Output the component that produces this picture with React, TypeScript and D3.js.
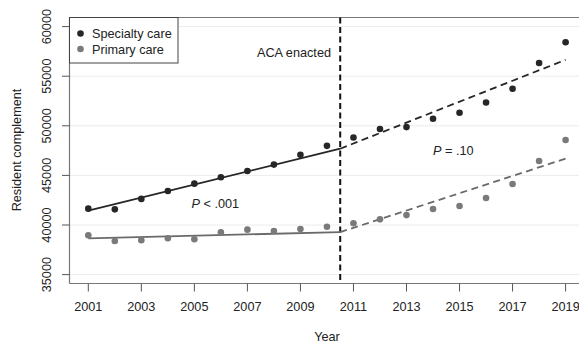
import React from "react";
import * as d3 from "d3";

const years = [2001, 2002, 2003, 2004, 2005, 2006, 2007, 2008, 2009, 2010, 2011, 2012, 2013, 2014, 2015, 2016, 2017, 2018, 2019];
const specialtyCare = [41650, 41580, 42630, 43430, 44170, 44820, 45450, 46090, 47070, 47980, 48820, 49670, 49870, 50710, 51310, 52350, 53740, 56330, 58420];
const primaryCare = [38960, 38390, 38460, 38660, 38560, 39260, 39530, 39400, 39600, 39830, 40170, 40570, 41000, 41610, 41910, 42720, 44130, 46450, 48570];

// Segmented regression fits: [startYear, startValue, endYear, endValue]
const specialtyFitPre = [2001, 41440, 2010.5, 47690];
const specialtyFitPost = [2010.5, 47690, 2019, 56650];
const primaryFitPre = [2001, 38660, 2010.5, 39280];
const primaryFitPost = [2010.5, 39280, 2019, 46690];

const acaYear = 2010.5;
const xTicks = [2001, 2003, 2005, 2007, 2009, 2011, 2013, 2015, 2017, 2019];
const yTicks = [35000, 40000, 45000, 50000, 55000, 60000];

const W = 579;
const H = 343;
const left = 69.5;
const top = 17.5;
const bottom = 283.5;
const right = 586;

const font = "'Liberation Sans', Arial, sans-serif";
const darkCol = "#262626";
const greyCol = "#7a7a7a";

export default function App() {
  const x = d3.scaleLinear().domain([2001, 2019]).range([88.3, 565.6]);
  const y = d3.scaleLinear().domain([40000, 60000]).range([225, 26.6]);

  const seg = (f: number[]) =>
    d3.line<[number, number]>().x((d) => x(d[0])).y((d) => y(d[1]))([
      [f[0], f[1]],
      [f[2], f[3]],
    ]) as string;

  return (
    <svg width={W} height={H} style={{ position: "absolute", left: 0, top: 0, background: "#fff" }} fontFamily={font}>
      {/* grid */}
      {yTicks.map((t) => (
        <line key={"g" + t} x1={left} x2={right} y1={y(t)} y2={y(t)} stroke="#ececec" strokeWidth={1} />
      ))}
      {/* plot frame */}
      <line x1={left} x2={right} y1={top} y2={top} stroke="#777" strokeWidth={1.2} />
      <line x1={left} x2={left} y1={top} y2={bottom} stroke="#777" strokeWidth={1.2} />
      <line x1={left} x2={right} y1={bottom} y2={bottom} stroke="#777" strokeWidth={1.2} />

      {/* y axis */}
      {yTicks.map((t) => (
        <g key={"y" + t}>
          <line x1={left - 7.5} x2={left} y1={y(t)} y2={y(t)} stroke="#555" strokeWidth={1} />
          <text
            transform={`translate(51,${y(t)}) rotate(-90)`}
            textAnchor="middle"
            fontSize={12.7}
            fill="#222"
          >
            {t}
          </text>
        </g>
      ))}
      {/* x axis */}
      {xTicks.map((t) => (
        <g key={"x" + t}>
          <line x1={x(t)} x2={x(t)} y1={bottom} y2={bottom + 8} stroke="#555" strokeWidth={1} />
          <text x={x(t)} y={311} textAnchor="middle" fontSize={12.7} fill="#222">
            {t}
          </text>
        </g>
      ))}
      <text x={327} y={341} textAnchor="middle" fontSize={12.7} fill="#222">
        Year
      </text>
      <text transform={`translate(21,150) rotate(-90)`} textAnchor="middle" fontSize={12.7} fill="#222">
        Resident complement
      </text>

      {/* ACA marker */}
      <line x1={x(acaYear)} x2={x(acaYear)} y1={top} y2={bottom} stroke="#111" strokeWidth={2} strokeDasharray="6,3.5" />
      <text x={331} y={56.5} textAnchor="end" fontSize={12.7} fill="#222">
        ACA enacted
      </text>

      {/* fit lines */}
      <path d={seg(specialtyFitPre)} stroke={darkCol} strokeWidth={1.8} fill="none" />
      <path d={seg(specialtyFitPost)} stroke={darkCol} strokeWidth={1.8} fill="none" strokeDasharray="7,4.5" />
      <path d={seg(primaryFitPre)} stroke="#6a6a6a" strokeWidth={1.8} fill="none" />
      <path d={seg(primaryFitPost)} stroke="#6a6a6a" strokeWidth={1.8} fill="none" strokeDasharray="7,4.5" />

      {/* points */}
      {years.map((yr, i) => (
        <circle key={"s" + yr} cx={x(yr)} cy={y(specialtyCare[i])} r={3.3} fill={darkCol} />
      ))}
      {years.map((yr, i) => (
        <circle key={"p" + yr} cx={x(yr)} cy={y(primaryCare[i])} r={3.3} fill={greyCol} />
      ))}

      {/* p-values */}
      <text x={191.5} y={208} fontSize={12.7} fill="#222">
        <tspan fontStyle="italic">P</tspan> &lt; .001
      </text>
      <text x={433} y={154.5} fontSize={12.7} fill="#222">
        <tspan fontStyle="italic">P</tspan> = .10
      </text>

      {/* legend */}
      <rect x={left} y={top} width={108.5} height={45.5} fill="#fff" stroke="#444" strokeWidth={1} />
      <circle cx={80.5} cy={33.5} r={3.3} fill={darkCol} />
      <circle cx={80.5} cy={49} r={3.3} fill={greyCol} />
      <text x={92} y={38} fontSize={12.7} fill="#222">
        Specialty care
      </text>
      <text x={92} y={53.5} fontSize={12.7} fill="#222">
        Primary care
      </text>
    </svg>
  );
}
